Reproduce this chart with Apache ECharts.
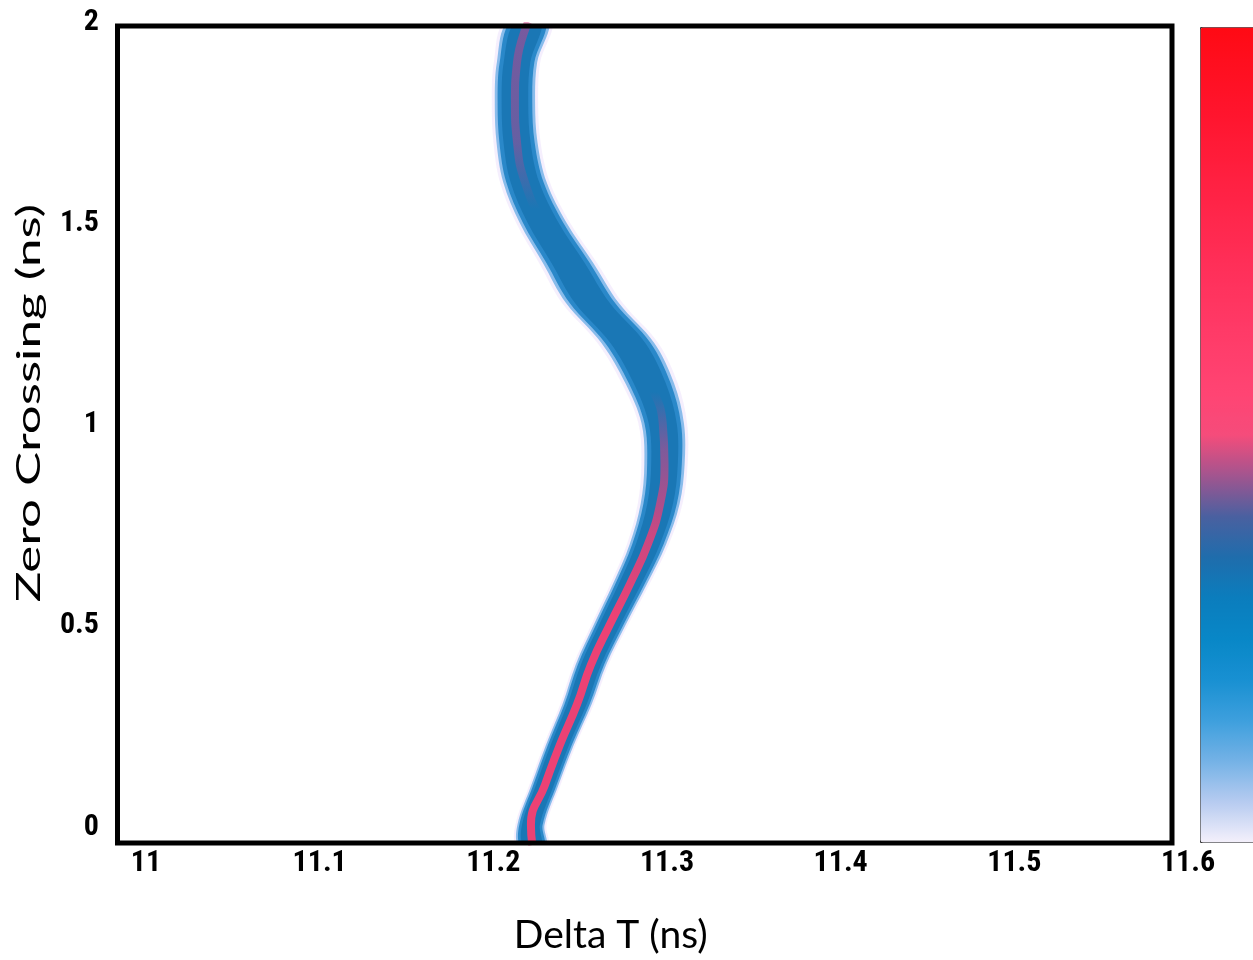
<!DOCTYPE html>
<html>
<head>
<meta charset="utf-8">
<script src="https://cdn.jsdelivr.net/npm/echarts@6/dist/echarts.min.js"></script>
<style>
html,body{margin:0;padding:0;background:#ffffff;}
#chart{width:1253px;height:960px;}
</style>
</head>
<body>
<div id="chart"></div>
<script>
// ---- data ----
// zero-crossing level (ns) along the trace
const zeroCrossing = [-0.05, 0, 0.1, 0.2, 0.3, 0.4, 0.5, 0.6, 0.7, 0.8, 0.9, 1.0, 1.1, 1.2, 1.3, 1.4, 1.5, 1.6, 1.7, 1.8, 1.9, 2.0];
// centre of the density trace, Delta T (ns)
const deltaT = [11.2224, 11.2216, 11.2297, 11.2383, 11.2481, 11.2562, 11.2671, 11.2786, 11.2890, 11.2960, 11.2985, 11.2975, 11.2900, 11.2775, 11.2570, 11.2430, 11.2286, 11.2182, 11.2136, 11.2124, 11.2136, 11.2200];
// half-width of the spread of the trace (ns)
const spread = [0.0078, 0.0078, 0.0078, 0.0080, 0.0084, 0.0088, 0.0092, 0.0098, 0.0105, 0.0112, 0.0116, 0.0122, 0.0140, 0.0152, 0.0152, 0.0145, 0.0135, 0.0125, 0.0118, 0.0116, 0.0116, 0.0116];
// tick labels
const xTicks = [11, 11.1, 11.2, 11.3, 11.4, 11.5, 11.6];
const yTicks = [0, 0.5, 1, 1.5, 2];
const xTitle = 'Delta T (ns)';
const yTitle = 'Zero Crossing (ns)';

// ---- styles ----
const colorbarColors = ['#f4f0fb','#b6cbf0','#74b2e6','#3d9fdd','#1890d2','#0887c7','#0b7dbd','#1f6dac','#4a60a0','#a2558f','#f54c7b','#ff4473','#ff3e6c','#ff3763','#ff305a','#ff294f','#ff2244','#ff1b38','#ff142c','#ff0f20','#ff0a14'];
const tickFont = "'Liberation Sans Narrow','Arial Narrow','Roboto Condensed','Liberation Sans',Arial,sans-serif";
const titleFont = "Lato,'Open Sans',sans-serif";

const rows = zeroCrossing.map((z, i) => [deltaT[i], z, spread[i]]);
const centre = zeroCrossing.map((z, i) => [deltaT[i], z]);
const step = (a) => Math.round((a[1] - a[0]) * 1e6) / 1e6;

function bandPoints(api, factor) {
  const pts = [];
  for (let i = 0; i < rows.length; i++) pts.push(api.coord([rows[i][0] - rows[i][2] * factor, rows[i][1]]));
  for (let i = rows.length - 1; i >= 0; i--) pts.push(api.coord([rows[i][0] + rows[i][2] * factor, rows[i][1]]));
  return pts;
}

const chart = echarts.init(document.getElementById('chart'), null, {renderer: 'canvas'});
chart.setOption({
  animation: false,
  backgroundColor: '#ffffff',
  grid: [
    {left: 117.5, top: 26, width: 1054.5, height: 817, show: false},
    {left: 146, top: 22, right: 65, bottom: 133, show: false}
  ],
  xAxis: [
    {type: 'value', gridIndex: 0, min: 10.98359, max: 11.59067,
     axisLine: {show: false}, axisTick: {show: false}, axisLabel: {show: false}, splitLine: {show: false},
     name: xTitle, nameLocation: 'middle', nameGap: 73,
     nameTextStyle: {fontFamily: titleFont, fontSize: 39, color: '#000', padding: [0, 68, 0, 0]}},
    {type: 'value', gridIndex: 1, min: xTicks[0], max: xTicks[xTicks.length - 1], interval: step(xTicks),
     axisLine: {show: false}, axisTick: {show: false}, splitLine: {show: false},
     axisLabel: {show: true, margin: 21, fontSize: 30, fontWeight: 'bold', fontFamily: tickFont, color: '#000', showMinLabel: true, showMaxLabel: true}}
  ],
  yAxis: [
    {type: 'value', gridIndex: 0, min: -0.0448, max: 1.990,
     axisLine: {show: false}, axisTick: {show: false}, axisLabel: {show: false}, splitLine: {show: false}},
    {type: 'value', gridIndex: 1, min: yTicks[0], max: yTicks[yTicks.length - 1], interval: step(yTicks),
     axisLine: {show: false}, axisTick: {show: false}, splitLine: {show: false},
     axisLabel: {show: true, margin: 47, fontSize: 30, fontWeight: 'bold', fontFamily: tickFont, color: '#000', showMinLabel: true, showMaxLabel: true}}
  ],
  visualMap: {
    type: 'continuous', min: 0, max: 1, dimension: 2, seriesIndex: 0,
    calculable: false, show: true, left: 1200, top: 27, itemWidth: 60, itemHeight: 815,
    padding: 0, borderWidth: 1, borderColor: '#3a3a3a', backgroundColor: 'transparent',
    inRange: {color: colorbarColors}
  },
  graphic: [
    {type: 'text', x: 30, y: 403, rotation: Math.PI / 2, scaleX: 1.6, scaleY: 1, z: 100,
     style: {text: yTitle, fontFamily: titleFont, fontSize: 32, fill: '#000', align: 'center', verticalAlign: 'middle'}},
    {type: 'rect', z: 100, silent: true, shape: {x: 117.5, y: 26, width: 1054.5, height: 817},
     style: {fill: null, stroke: '#000', lineWidth: 5}}
  ],
  series: [
    {
      type: 'custom', xAxisIndex: 0, yAxisIndex: 0, clip: true, silent: true, z: 2,
      data: rows,
      renderItem: function (params, api) {
        if (params.dataIndex !== 0) return null;
        return {
          type: 'group',
          children: [
            {type: 'polygon', shape: {points: bandPoints(api, 1.15), smooth: 0.35}, style: {fill: 'rgba(225,210,248,0.35)'}},
            {type: 'polygon', shape: {points: bandPoints(api, 1.0), smooth: 0.35}, style: {fill: 'rgba(110,175,230,0.8)'}},
            {type: 'polygon', shape: {points: bandPoints(api, 0.86), smooth: 0.35}, style: {fill: '#2a88c9'}},
            {type: 'polygon', shape: {points: bandPoints(api, 0.66), smooth: 0.35}, style: {fill: '#1a77b5'}}
          ]
        };
      }
    },
    {
      type: 'line', xAxisIndex: 0, yAxisIndex: 0, data: centre, smooth: true, showSymbol: false, symbol: 'none',
      silent: true, z: 3, clip: true,
      lineStyle: {
        width: 8,
        color: new echarts.graphic.LinearGradient(0, 0, 0, 1, [
          {offset: 0.00, color: 'rgba(215,60,135,0.5)'},
          {offset: 0.15, color: 'rgba(215,60,135,0.4)'},
          {offset: 0.23, color: 'rgba(215,60,135,0)'},
          {offset: 0.45, color: 'rgba(215,60,135,0)'},
          {offset: 0.52, color: 'rgba(225,62,128,0.5)'},
          {offset: 0.62, color: 'rgba(232,64,120,0.85)'},
          {offset: 0.72, color: 'rgba(236,66,116,1)'},
          {offset: 1.00, color: 'rgba(236,66,116,1)'}
        ])
      }
    }
  ]
});
</script>
</body>
</html>
